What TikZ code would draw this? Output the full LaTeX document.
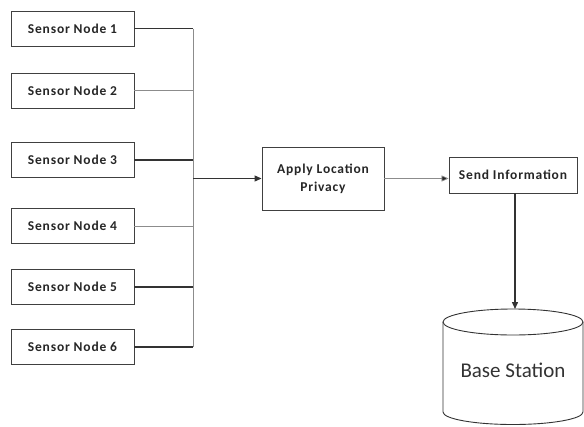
\documentclass[tikz,border=0pt]{standalone}
\usepackage{fontspec}
\setmainfont{Carlito}
\newfontfamily\boxfont[LetterSpace=6]{Carlito}
\usetikzlibrary{arrows.meta}
\begin{document}
\begin{tikzpicture}[x=1pt,y=-1pt,
  sbox/.style={draw=black!75, line width=0.9pt, minimum width=123pt, minimum height=35pt, inner sep=0pt,
    font=\boxfont\fontsize{13.5}{16}\selectfont\bfseries, text=black!85},
  dark/.style={draw=black!80, line width=1.1pt},
  light/.style={draw=black!45, line width=0.7pt},
  tip/.style={-{Triangle[length=7pt,width=6pt]}}]
\useasboundingbox (0,0) rectangle (584,426);
\node[sbox] (s1) at (72.5,28.5) {Sensor Node 1};
\node[sbox] (s2) at (72.5,90.5) {Sensor Node 2};
\node[sbox] (s3) at (72.5,160) {Sensor Node 3};
\node[sbox] (s4) at (72.5,226) {Sensor Node 4};
\node[sbox] (s5) at (72.5,287) {Sensor Node 5};
\node[sbox] (s6) at (72.5,347) {Sensor Node 6};
\coordinate (bt) at (193,28.5);
\coordinate (bb) at (193,347);
\coordinate (bm) at (193,178.5);
\node[sbox, minimum width=122pt, minimum height=63pt, align=center] (apply) at (323,178.5) {Apply Location\\[2pt]Privacy};
\node[sbox, minimum width=128pt, minimum height=36pt] (send) at (513,175) {Send Information};
% bus lines
\draw[dark] (s1.east) -- (bt);
\draw[light] (s2.east) -- (s2.east -| bt);
\draw[dark] (s3.east) -- (s3.east -| bt);
\draw[light] (s4.east) -- (s4.east -| bt);
\draw[dark] (s5.east) -- (s5.east -| bt);
\draw[dark] (s6.east) -- (bb);
\draw[light, line width=0.9pt] (bt) -- (bb);
\draw[dark, tip] (bm) -- (apply.west);
\draw[light, -{Triangle[length=7pt,width=6pt,fill=black!85]}] (apply.east) -- (apply.east -| send.west);
% cylinder
\coordinate (bstop) at (515,309);
\draw[dark, line width=1.4pt, tip] (send.south -| bstop) -- (bstop);
\draw[black!80, line width=0.9pt] (513,322) ellipse [x radius=70, y radius=13];
\draw[black!80, line width=0.9pt] (443,322) -- (443,412) arc[start angle=180, end angle=0, x radius=70, y radius=12.5] -- (583,322);
\node[font=\fontsize{21}{24}\selectfont, text=black!80] (bs) at (513,370) {Base Station};
\end{tikzpicture}
\end{document}
